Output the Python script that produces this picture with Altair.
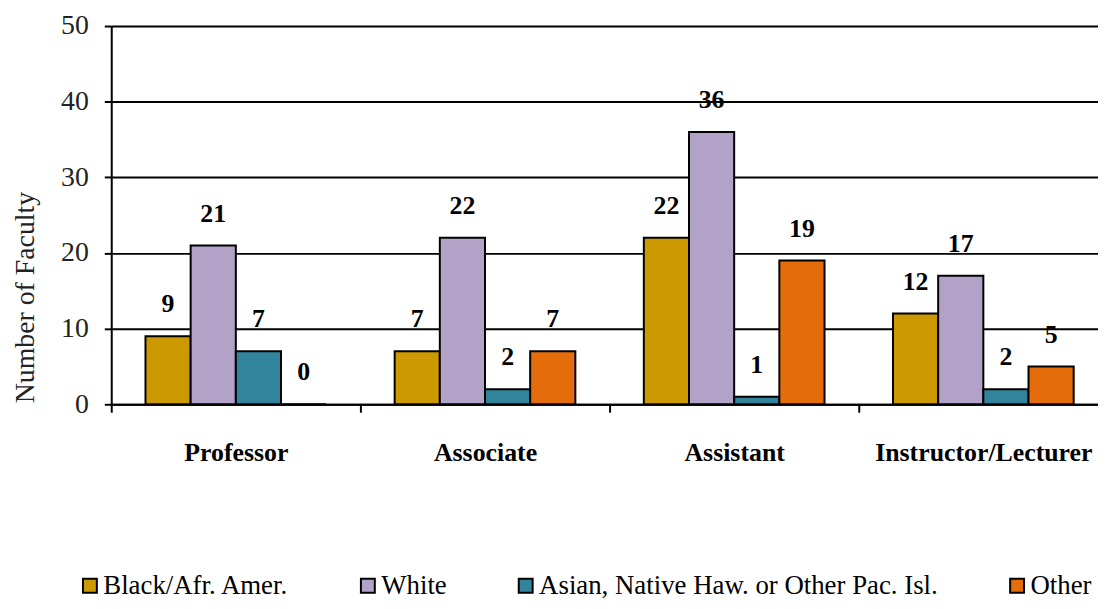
import altair as alt
import pandas as pd

ranks = ["Professor", "Associate", "Assistant", "Instructor/Lecturer"]
groups = ["Black/Afr. Amer.", "White", "Asian, Native Haw. or Other Pac. Isl.", "Other"]
black = [9, 7, 22, 12]
white = [21, 22, 36, 17]
asian = [7, 2, 1, 2]
other = [0, 7, 19, 5]
colors = ["#CC9900", "#B3A2C7", "#31849B", "#E46C0A"]

rows = []
for i, r in enumerate(ranks):
    for g, vals in zip(groups, [black, white, asian, other]):
        rows.append({"rank": r, "group": g, "value": vals[i]})
df = pd.DataFrame(rows)

FONT = "Liberation Serif"

x = alt.X("rank:N", sort=ranks, title=None,
          scale=alt.Scale(paddingInner=0, paddingOuter=0, range=[0, 1004]),
          axis=alt.Axis(labelAngle=0, labelFont=FONT, labelFontSize=26, labelFontWeight="bold",
                        labelColor="black", labelPadding=28, labelLimit=0,
                        tickBand="extent", tickSize=8,
                        tickColor="black", tickWidth=2, domainColor="black", domainWidth=2,
                        grid=False))
xo = alt.XOffset("group:N", sort=groups, scale=alt.Scale(paddingInner=0, paddingOuter=0.758))
y = alt.Y("value:Q", scale=alt.Scale(domain=[0, 50], nice=False),
          axis=alt.Axis(values=[0, 10, 20, 30, 40, 50], title="Number of Faculty",
                        titleFont=FONT, titleFontSize=28, titleFontWeight="normal",
                        titleColor="#222222", titleX=-86, titleY=273, titleAngle=270,
                        titleAlign="center", titleBaseline="middle",
                        labelFont=FONT, labelFontSize=28, labelColor="#222222", labelPadding=16,
                        tickSize=7, tickColor="black", tickWidth=2,
                        domainColor="black", domainWidth=2,
                        grid=True, gridColor="black", gridWidth=2))

bars = alt.Chart(df).mark_bar(stroke="black", strokeWidth=2).encode(
    x=x, xOffset=xo, y=y,
    color=alt.Color("group:N", sort=groups,
                    scale=alt.Scale(domain=groups, range=colors),
                    legend=alt.Legend(title=None, orient="none", direction="horizontal",
                                      legendX=-35, legendY=550, columns=4,
                                      symbolType="square", symbolSize=196,
                                      symbolStrokeColor="black", symbolStrokeWidth=2,
                                      symbolOpacity=1,
                                      labelFont=FONT, labelFontSize=27, labelColor="black",
                                      labelOffset=0, labelLimit=0, columnPadding=66,
                                      padding=0))
)

labels = alt.Chart(df).mark_text(font=FONT, fontSize=26, fontWeight="bold", color="black",
                                 baseline="middle", dy=-32).encode(
    x=alt.X("rank:N", sort=ranks), xOffset=alt.XOffset("group:N", sort=groups),
    y=alt.Y("value:Q"), text="value:Q"
)

chart = (bars + labels).properties(
    width=994, height=381, autosize="none",
    padding={"left": 104, "top": 16, "right": 0, "bottom": 196}
).configure_view(stroke=None).configure(background="white")

chart.save("out.html", embed_options={"renderer": "svg", "actions": False})
